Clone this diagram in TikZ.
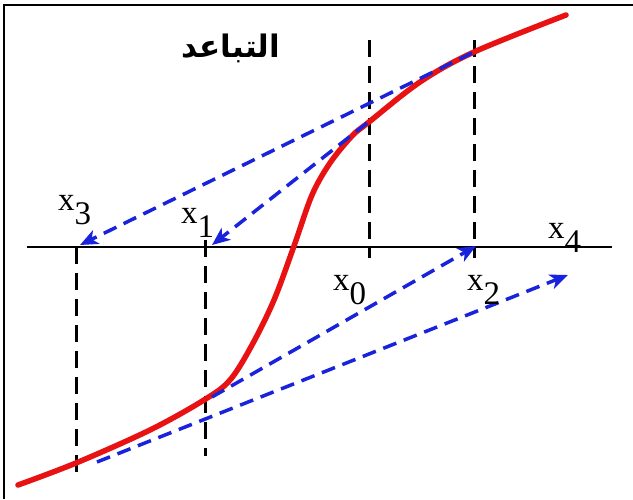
\documentclass[tikz,border=0pt]{standalone}
\usepackage{fontspec}
\setmainfont{Liberation Serif}
\newfontfamily\arabicfont[Script=Arabic]{DejaVu Sans}
\TeXXeTstate=1
\usetikzlibrary{arrows.meta}
\definecolor{curvered}{RGB}{232,18,18}
\definecolor{arrowblue}{RGB}{25,35,220}
\newcommand{\xsub}[1]{x\raisebox{-14pt}{#1}}
\tikzset{
  framestroke/.style={line width=2.5pt, black},
  axisline/.style={line width=2.5pt, black},
  guide/.style={line width=3pt, black, dash pattern=on 17pt off 9pt},
  newton/.style={line width=3.5pt, arrowblue, dash pattern=on 14pt off 8pt,
    -{Stealth[length=18pt,width=15pt,inset=5pt]}},
  fcurve/.style={line width=5.5pt, curvered, line cap=round},
  xlabel/.style={inner sep=0pt, anchor=base west, font=\fontsize{33}{35}\selectfont},
  title/.style={inner sep=0pt, anchor=base, font=\fontsize{31}{34}\selectfont\arabicfont\bfseries}
}
\begin{document}
\begin{tikzpicture}[x=1pt, y=-1pt]
\useasboundingbox (0,0) rectangle (633,499);
\fill[white] (0,0) rectangle (633,499);
% frame (top and left edges only)
\coordinate (fbl) at (4,499);
\coordinate (ftl) at (4,5);
\coordinate (ftr) at (633,5);
\draw[framestroke] (fbl) -- (ftl) -- (ftr);

% axis
\coordinate (axL) at (27,247);
\coordinate (axR) at (612,247);
\draw[axisline] (axL) -- (axR);

% vertical guides
\coordinate (g3t) at (76,247);  \coordinate (g3b) at (76,472);
\coordinate (g1t) at (205,240); \coordinate (g1b) at (205,456);
\coordinate (g0t) at (369,40);  \coordinate (g0b) at (369,258);
\coordinate (g2t) at (474,40);  \coordinate (g2b) at (474,258);
\draw[guide] (g3t) -- (g3b);
\draw[guide] (g1t) -- (g1b);
\draw[guide] (g0t) -- (g0b);
\draw[guide] (g2t) -- (g2b);

% the function
\draw[fcurve] plot[smooth, tension=0.55] coordinates {
  (18,485) (76,463) (150,430) (204,400) (230,380) (252,345) (274,300)
  (294,246) (312,195) (330,163) (352,136) (369,122) (420,82) (474,52) (566,15)};

% Newton steps
\coordinate (p2) at (472,53);
\coordinate (p0) at (367,123);
\coordinate (p1) at (212,397);
\coordinate (p3) at (97,462);
\coordinate (t3) at (80,245);
\coordinate (t1) at (212,245);
\coordinate (t2) at (476,246);
\coordinate (t4) at (568,275);
\draw[newton] (p2) -- (t3);
\draw[newton] (p0) -- (t1);
\draw[newton] (p1) -- (t2);
\draw[newton] (p3) -- (t4);

% labels
\node[xlabel] (l3) at (58,210) {\xsub{3}};
\node[xlabel] (l1) at (181,223) {\xsub{1}};
\node[xlabel] (l0) at (333,290) {\xsub{0}};
\node[xlabel] (l2) at (467,290) {\xsub{2}};
\node[xlabel] (l4) at (548,238) {\xsub{4}};
\node[title] (ttl) at (231,57) {\beginR التباعد\endR};
\end{tikzpicture}
\end{document}
